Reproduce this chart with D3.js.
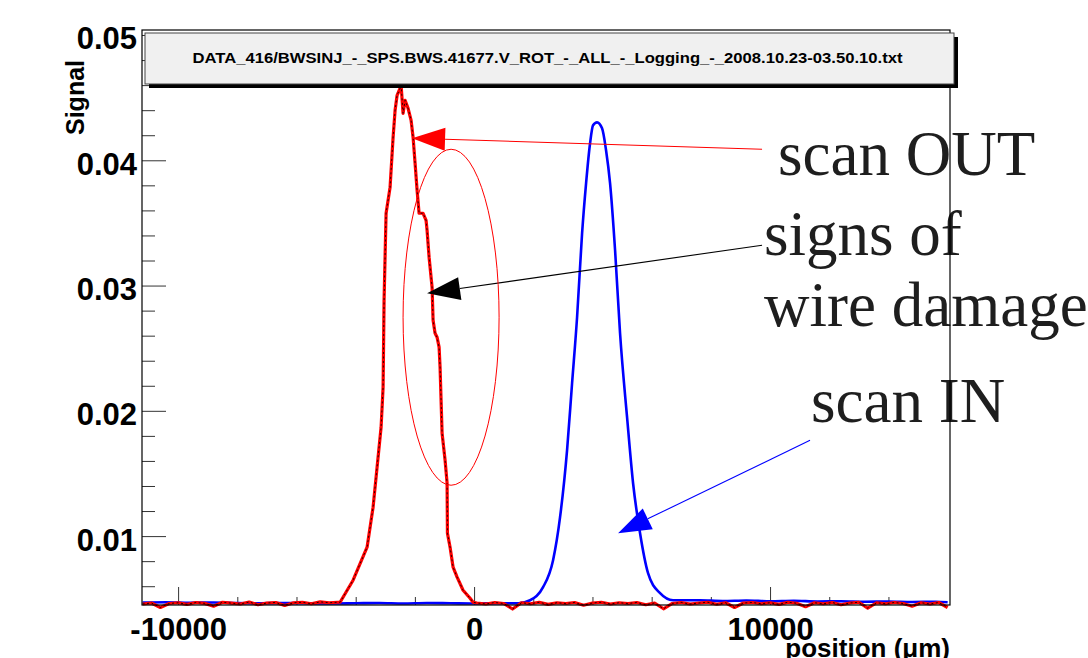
<!DOCTYPE html>
<html>
<head>
<meta charset="utf-8">
<script src="https://cdnjs.cloudflare.com/ajax/libs/d3/7.8.5/d3.min.js"></script>
<style>
  body { margin: 0; background: #fff; }
  svg { display: block; }
</style>
</head>
<body>
<svg id="chart" width="1088" height="658"></svg>
<script>
// ---- wire-scanner profiles: position (um) vs. signal ----
const scanOutPos = [
  -11200, -10900, -10600, -10300, -10000, -9700, -9400, -9100, -8800, -8500,
  -8200, -7900, -7600, -7300, -7000, -6700, -6400, -6100, -5800, -5500,
  -5200, -4900, -4600,
  -4527, -4088, -3615, -3412, -3277, -3142, -3074, -3041, -2973, -2838,
  -2736, -2669, -2601, -2500, -2466, -2399, -2331, -2230, -2128, -2061,
  -1993, -1926, -1858, -1723, -1622, -1588, -1520, -1419, -1385, -1318,
  -1250, -1182, -1149, -1081, -980, -912, -900, -811, -709, -574,
  -372, -135, -34,
  100, 400, 700, 1000, 1300, 1600, 1900, 2200, 2500, 2800,
  3100, 3400, 3700, 4000, 4300, 4600, 4900, 5200, 5500, 5800,
  6100, 6400, 6700, 7000, 7300, 7600, 7900, 8200, 8500, 8800,
  9100, 9400, 9700, 10000, 10300, 10600, 10900, 11200, 11500, 11800,
  12100, 12400, 12700, 13000, 13300, 13600, 13900, 14200, 14500, 14800,
  15100, 15400, 15700, 16000
];
const scanOutSig = [
  0.00458, 0.00466, 0.00430, 0.00462, 0.00468, 0.00455, 0.00470, 0.00463, 0.00440, 0.00472,
  0.00465, 0.00458, 0.00474, 0.00452, 0.00466, 0.00470, 0.00446, 0.00468, 0.00472, 0.00460,
  0.00475, 0.00468, 0.00472,
  0.00472, 0.00648, 0.00911, 0.01231, 0.01550, 0.01869, 0.02188, 0.02883, 0.03577, 0.03785,
  0.04184, 0.04399, 0.04519, 0.04575, 0.04600, 0.04375, 0.04479, 0.04415, 0.04319, 0.04184,
  0.03976, 0.03761, 0.03577, 0.03577, 0.03521, 0.03441, 0.03226, 0.02986, 0.02723, 0.02619,
  0.02587, 0.02508, 0.02348, 0.01821, 0.01606, 0.01422, 0.01023, 0.00911, 0.00752, 0.00672,
  0.00568, 0.00504, 0.00472,
  0.00466, 0.00458, 0.00470, 0.00462, 0.00418, 0.00468, 0.00460, 0.00472, 0.00455, 0.00468,
  0.00462, 0.00470, 0.00448, 0.00466, 0.00472, 0.00458, 0.00468, 0.00462, 0.00470, 0.00452,
  0.00466, 0.00420, 0.00462, 0.00470, 0.00458, 0.00466, 0.00472, 0.00456, 0.00468, 0.00430,
  0.00466, 0.00470, 0.00460, 0.00468, 0.00455, 0.00472, 0.00464, 0.00436, 0.00468, 0.00460,
  0.00470, 0.00452, 0.00466, 0.00472, 0.00425, 0.00468, 0.00460, 0.00470, 0.00462, 0.00440,
  0.00468, 0.00458, 0.00470, 0.00430
];

const scanInPos = [
  -11200, -10400, -9600, -8800, -8000, -7200, -6400, -5600, -4800, -4000,
  -3200, -2400, -1600, -800, 0, 800, 1500,
  1892, 2331, 2669, 2905, 3142, 3311, 3480, 3649, 3784, 3919,
  4020, 4155, 4324, 4459, 4595, 4764, 4932, 5169, 5372, 5608,
  5878, 6284, 6723,
  7635, 8400, 9200, 10000, 10800, 11600, 12400, 13200, 14000, 14800,
  15600, 16000
];
const scanInSig = [
  0.00470, 0.00472, 0.00468, 0.00470, 0.00466, 0.00464, 0.00466, 0.00464, 0.00462, 0.00464,
  0.00466, 0.00462, 0.00466, 0.00464, 0.00462, 0.00464, 0.00464,
  0.00488, 0.00592, 0.00808, 0.01151, 0.01686, 0.02220, 0.02747, 0.03417, 0.03816, 0.04136,
  0.04279, 0.04303, 0.04255, 0.04080, 0.03816, 0.03282, 0.02619, 0.01949, 0.01422, 0.01023,
  0.00704, 0.00544, 0.00488,
  0.00488, 0.00482, 0.00486, 0.00480, 0.00484, 0.00478, 0.00480, 0.00476, 0.00478, 0.00474,
  0.00476, 0.00472
];

// ---- axes ----
const xMajorTicks = [-10000, 0, 10000];
const xMinorTicks = [-8000, -6000, -4000, -2000, 2000, 4000, 6000, 8000, 12000, 14000];
const yMajorTicks = [0.01, 0.02, 0.03, 0.04, 0.05];
const yMinorTicks = [0.006, 0.008, 0.012, 0.014, 0.016, 0.018, 0.022, 0.024, 0.026, 0.028,
                     0.032, 0.034, 0.036, 0.038, 0.042, 0.044, 0.046, 0.048];
const xTickLabels = ["-10000", "0", "10000"];
const yTickLabels = ["0.01", "0.02", "0.03", "0.04", "0.05"];

const titleText = "DATA_416/BWSINJ_-_SPS.BWS.41677.V_ROT_-_ALL_-_Logging_-_2008.10.23-03.50.10.txt";
const xTitle = "position (\u03bcm)";
const yTitle = "Signal";

// ---- annotations, in data units: [x, y] ----
const arrowOutTip = [-2095, 0.04176], arrowOutTail = [9730, 0.04088];
const arrowDmgTip = [-1588, 0.02939], arrowDmgTail = [9730, 0.03322];
const arrowInTip = [4865, 0.01023], arrowInTail = [11351, 0.01765];
const damageCenter = [-777, 0.02747], damageRadii = [1622, 0.01341];
const noteLabels = ["scan OUT", "signs of", "wire damage", "scan IN"];
const noteAnchors = [[10270, 0.0388], [9797, 0.03242], [9797, 0.02675], [11385, 0.01909]];

// ---- layout ----
const frame = { left: 142, right: 950, top: 30, bottom: 605 };
const x = d3.scaleLinear().domain([-11220, 16080]).range([frame.left, frame.right]);
const y = d3.scaleLinear().domain([0.0045, 0.0504]).range([frame.bottom, frame.top]);

const svg = d3.select("#chart");
svg.append("rect").attr("width", 1088).attr("height", 658).attr("fill", "#fff");

svg.append("defs").append("clipPath").attr("id", "plotClip")
  .append("rect")
  .attr("x", frame.left).attr("y", frame.top)
  .attr("width", frame.right - frame.left)
  .attr("height", frame.bottom - frame.top + 10);

const axisFont = "'Liberation Sans', Arial, Helvetica, sans-serif";

// y axis: ticks point into the frame, labels on the left
const yMajor = d3.axisLeft(y).tickValues(yMajorTicks)
  .tickFormat((d, i) => yTickLabels[i]).tickSizeInner(-24).tickSizeOuter(0).tickPadding(5);
const yMinor = d3.axisLeft(y).tickValues(yMinorTicks)
  .tickFormat("").tickSizeInner(-13).tickSizeOuter(0);
const gy = svg.append("g").attr("transform", `translate(${frame.left},0)`).call(yMajor);
svg.append("g").attr("transform", `translate(${frame.left},0)`).call(yMinor)
  .call(g => g.select(".domain").remove())
  .selectAll("line").attr("stroke", "#333");
gy.select(".domain").remove();
gy.selectAll("line").attr("stroke", "#333");
gy.selectAll("text")
  .attr("font-family", axisFont).attr("font-weight", "bold").attr("font-size", 31)
  .attr("fill", "#000").attr("dy", "0.45em");

// x axis
const xMajor = d3.axisBottom(x).tickValues(xMajorTicks)
  .tickFormat((d, i) => xTickLabels[i]).tickSizeInner(-18).tickSizeOuter(0).tickPadding(13);
const xMinor = d3.axisBottom(x).tickValues(xMinorTicks)
  .tickFormat("").tickSizeInner(-8).tickSizeOuter(0);
const gx = svg.append("g").attr("transform", `translate(0,${frame.bottom})`).call(xMajor);
svg.append("g").attr("transform", `translate(0,${frame.bottom})`).call(xMinor)
  .call(g => g.select(".domain").remove())
  .selectAll("line").attr("stroke", "#333");
gx.select(".domain").remove();
gx.selectAll("line").attr("stroke", "#333");
gx.selectAll("text")
  .attr("font-family", axisFont).attr("font-weight", "bold").attr("font-size", 31)
  .attr("fill", "#000");

// axis titles
svg.append("text")
  .attr("transform", `translate(84,60) rotate(-90)`)
  .attr("text-anchor", "end")
  .attr("font-family", axisFont).attr("font-weight", "bold").attr("font-size", 25)
  .text(yTitle);
svg.append("text")
  .attr("x", frame.right).attr("y", 657)
  .attr("text-anchor", "end")
  .attr("font-family", axisFont).attr("font-weight", "bold").attr("font-size", 26)
  .text(xTitle);

// ---- profiles ----
const plot = svg.append("g").attr("clip-path", "url(#plotClip)");
const line = d3.line().x(d => x(d[0])).y(d => y(d[1]));

const inPts = scanInPos.map((p, i) => [p, scanInSig[i]]);
const outPts = scanOutPos.map((p, i) => [p, scanOutSig[i]]);

plot.append("path").datum(inPts)
  .attr("d", line.curve(d3.curveMonotoneX))
  .attr("fill", "none").attr("stroke", "#0000ff").attr("stroke-width", 2.6)
  .attr("stroke-linejoin", "round");

plot.append("path").datum(outPts)
  .attr("d", line.curve(d3.curveLinear))
  .attr("fill", "none").attr("stroke", "#ff0000").attr("stroke-width", 3.2)
  .attr("stroke-linejoin", "round");

plot.append("path").datum(outPts)
  .attr("d", line.curve(d3.curveLinear))
  .attr("fill", "none").attr("stroke", "#000").attr("stroke-width", 1)
  .attr("stroke-dasharray", "2,2.5").attr("opacity", 0.85);

// ---- annotations ----
const serif = "'Liberation Serif', 'Times New Roman', Times, serif";
noteLabels.forEach((t, i) => {
  svg.append("text")
    .attr("x", x(noteAnchors[i][0])).attr("y", y(noteAnchors[i][1]))
    .attr("font-family", serif).attr("font-size", 63).attr("fill", "#1e1e1e")
    .text(t);
});

function arrow(tip, tail, color) {
  const tx = x(tip[0]), ty = y(tip[1]);
  const sx = x(tail[0]), sy = y(tail[1]);
  const dx = sx - tx, dy = sy - ty;
  const len = Math.hypot(dx, dy);
  const ux = dx / len, uy = dy / len;
  const headLen = 33, headHalf = 11.5;
  const bx = tx + ux * headLen, by = ty + uy * headLen;
  svg.append("line")
    .attr("x1", bx).attr("y1", by).attr("x2", sx).attr("y2", sy)
    .attr("stroke", color).attr("stroke-width", 1.1);
  svg.append("path")
    .attr("d", `M${tx},${ty}L${bx - uy * headHalf},${by + ux * headHalf}L${bx + uy * headHalf},${by - ux * headHalf}Z`)
    .attr("fill", color);
}
arrow(arrowOutTip, arrowOutTail, "#ff0000");
arrow(arrowDmgTip, arrowDmgTail, "#000000");
arrow(arrowInTip, arrowInTail, "#0000ff");

svg.append("ellipse")
  .attr("cx", x(damageCenter[0])).attr("cy", y(damageCenter[1]))
  .attr("rx", x(damageCenter[0] + damageRadii[0]) - x(damageCenter[0]))
  .attr("ry", y(damageCenter[1] - damageRadii[1]) - y(damageCenter[1]))
  .attr("fill", "none").attr("stroke", "#ff0000").attr("stroke-width", 1);

// ---- frame ----
svg.append("rect")
  .attr("x", frame.left).attr("y", frame.top)
  .attr("width", frame.right - frame.left).attr("height", frame.bottom - frame.top)
  .attr("fill", "none").attr("stroke", "#000").attr("stroke-width", 1.2);

// ---- title pave with drop shadow ----
const pave = { x: 145, y: 33, w: 809, h: 51 };
svg.append("rect")
  .attr("x", pave.x + 4).attr("y", pave.y + 4).attr("width", pave.w).attr("height", pave.h)
  .attr("fill", "#000");
svg.append("rect")
  .attr("x", pave.x).attr("y", pave.y).attr("width", pave.w).attr("height", pave.h)
  .attr("fill", "#f0f0f0").attr("stroke", "#444").attr("stroke-width", 1);
svg.append("text")
  .attr("x", pave.x + pave.w / 2 - 2).attr("y", pave.y + 30)
  .attr("text-anchor", "middle")
  .attr("font-family", axisFont).attr("font-weight", "bold").attr("font-size", 14)
  .attr("textLength", 710).attr("lengthAdjust", "spacingAndGlyphs")
  .text(titleText);
</script>
</body>
</html>
